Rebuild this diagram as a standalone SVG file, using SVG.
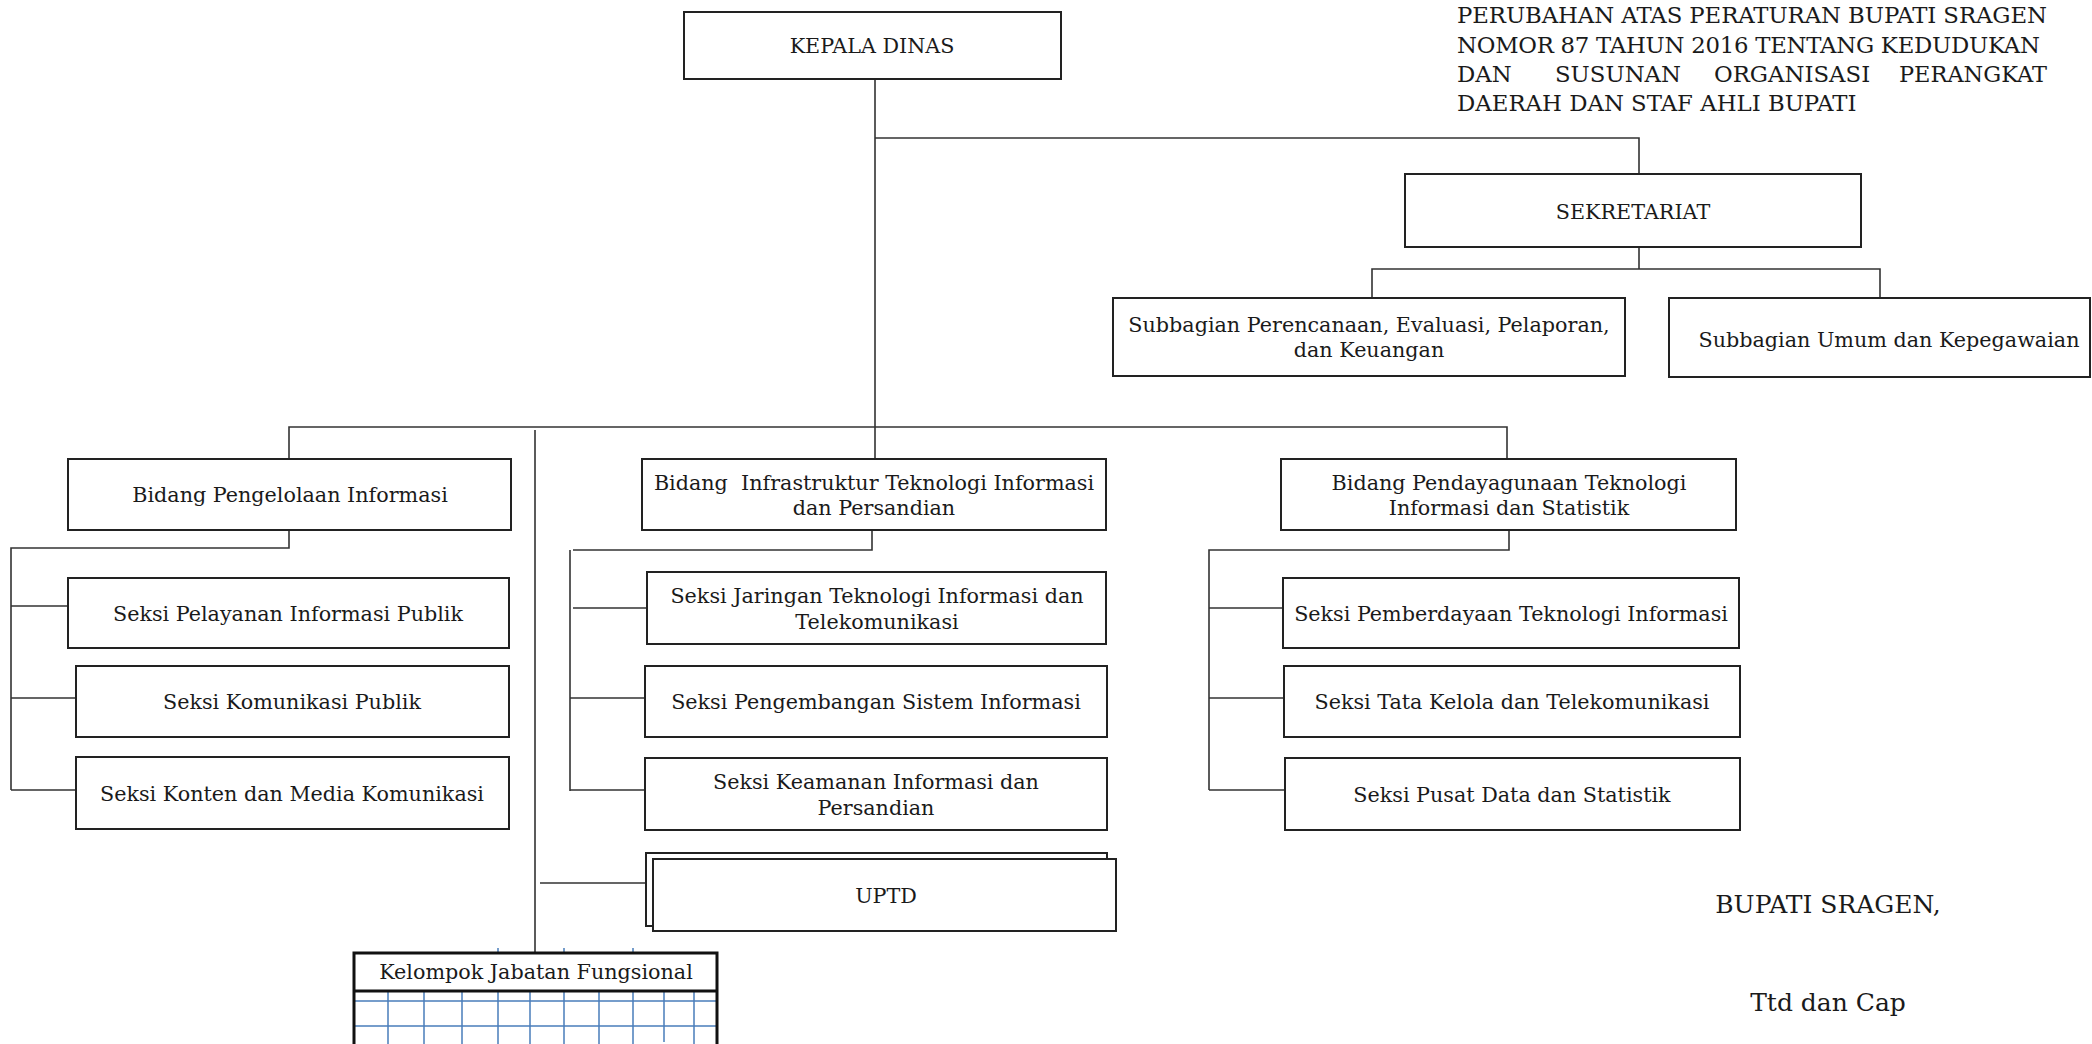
<svg xmlns="http://www.w3.org/2000/svg" width="2092" height="1044" viewBox="0 0 2092 1044">
<style>
text{font-family:"DejaVu Serif","Liberation Serif",serif;fill:#1a1a1a;font-size:20.7px}
.c{text-anchor:middle;dominant-baseline:central}
.box{fill:#fff;stroke:#222;stroke-width:2}
.ln{fill:none;stroke:#333;stroke-width:1.6}
.grid{stroke:#4a7ebb;stroke-width:1.5;fill:none}
.hd{font-size:22.8px}
.sig{font-size:25px}
</style>
<rect width="2092" height="1044" fill="#fff"/>
<g id="connectors">
<path class="ln" d="M875 79V459 M875 138H1639V174 M1639 247V269 M1372 298V269H1880V298"/>
<path class="ln" d="M289 459V427H1507V459 M535 430V952"/>
<path class="ln" d="M289 530V548H11V790 M11 606H68 M11 698H76 M11 790H76"/>
<path class="ln" d="M872 530V550H573 M570 550V791 M573 608H647 M570 698H645 M570 790H645 M540 883H646"/>
<path class="ln" d="M1509 530V550H1209V790 M1209 608H1283 M1209 698H1284 M1209 790H1285"/>
</g>
<g id="header">
<text class="hd" x="1457" y="23" textLength="590" lengthAdjust="spacing">PERUBAHAN ATAS PERATURAN BUPATI SRAGEN</text>
<text class="hd" x="1457" y="53" textLength="583" lengthAdjust="spacing">NOMOR 87 TAHUN 2016 TENTANG KEDUDUKAN</text>
<text class="hd" x="1457" y="82">DAN</text>
<text class="hd" x="1555" y="82">SUSUNAN</text>
<text class="hd" x="1714" y="82">ORGANISASI</text>
<text class="hd" x="1899" y="82" textLength="148" lengthAdjust="spacingAndGlyphs">PERANGKAT</text>
<text class="hd" x="1457" y="111">DAERAH DAN STAF AHLI BUPATI</text>
</g>
<g id="kepala-dinas"><rect class="box" x="684" y="12" width="377" height="67"/><text class="c" x="872" y="46">KEPALA DINAS</text></g>
<g id="sekretariat"><rect class="box" x="1405" y="174" width="456" height="73"/><text class="c" x="1633" y="212">SEKRETARIAT</text></g>
<g id="subbag-perencanaan"><rect class="box" x="1113" y="298" width="512" height="78"/><text class="c" x="1369" y="325">Subbagian Perencanaan, Evaluasi, Pelaporan,</text><text class="c" x="1369" y="350">dan Keuangan</text></g>
<g id="subbag-umum"><rect class="box" x="1669" y="298" width="421" height="79"/><text class="c" x="1889" y="340">Subbagian Umum dan Kepegawaian</text></g>
<g id="bidang-pengelolaan"><rect class="box" x="68" y="459" width="443" height="71"/><text class="c" x="290" y="495">Bidang Pengelolaan Informasi</text></g>
<g id="bidang-infrastruktur"><rect class="box" x="642" y="459" width="464" height="71"/><text class="c" x="874" y="483" xml:space="preserve">Bidang  Infrastruktur Teknologi Informasi</text><text class="c" x="874" y="508">dan Persandian</text></g>
<g id="bidang-pendayagunaan"><rect class="box" x="1281" y="459" width="455" height="71"/><text class="c" x="1509" y="483">Bidang Pendayagunaan Teknologi</text><text class="c" x="1509" y="508">Informasi dan Statistik</text></g>
<g id="seksi-pelayanan"><rect class="box" x="68" y="578" width="441" height="70"/><text class="c" x="288" y="614">Seksi Pelayanan Informasi Publik</text></g>
<g id="seksi-komunikasi"><rect class="box" x="76" y="666" width="433" height="71"/><text class="c" x="292" y="702">Seksi Komunikasi Publik</text></g>
<g id="seksi-konten"><rect class="box" x="76" y="757" width="433" height="72"/><text class="c" x="292" y="794">Seksi Konten dan Media Komunikasi</text></g>
<g id="seksi-jaringan"><rect class="box" x="647" y="572" width="459" height="72"/><text class="c" x="877" y="596">Seksi Jaringan Teknologi Informasi dan</text><text class="c" x="877" y="622">Telekomunikasi</text></g>
<g id="seksi-pengembangan"><rect class="box" x="645" y="666" width="462" height="71"/><text class="c" x="876" y="702">Seksi Pengembangan Sistem Informasi</text></g>
<g id="seksi-keamanan"><rect class="box" x="645" y="758" width="462" height="72"/><text class="c" x="876" y="782">Seksi Keamanan Informasi dan</text><text class="c" x="876" y="808">Persandian</text></g>
<g id="uptd"><rect class="box" x="646" y="853" width="461" height="73"/><rect class="box" x="653" y="859" width="463" height="72"/><text class="c" x="886" y="896">UPTD</text></g>
<g id="seksi-pemberdayaan"><rect class="box" x="1283" y="578" width="456" height="70"/><text class="c" x="1511" y="614">Seksi Pemberdayaan Teknologi Informasi</text></g>
<g id="seksi-tata-kelola"><rect class="box" x="1284" y="666" width="456" height="71"/><text class="c" x="1512" y="702">Seksi Tata Kelola dan Telekomunikasi</text></g>
<g id="seksi-pusat-data"><rect class="box" x="1285" y="758" width="455" height="72"/><text class="c" x="1512" y="795">Seksi Pusat Data dan Statistik</text></g>
<g id="kelompok-jabatan">
<path class="grid" d="M498 948V953 M564 948V953 M633 948V953 M388 991V1044 M424 991V1044 M462 991V1044 M498 991V1044 M530 991V1044 M564 991V1044 M599 991V1044 M633 991V1044 M664 991V1042 M694 991V1044 M354 1001H717 M354 1026H717"/>
<path fill="none" stroke="#111" stroke-width="3" d="M354 1046V953H717V1046 M354 991H717"/>
<text class="c" x="536" y="972" font-size="21px">Kelompok Jabatan Fungsional</text>
</g>
<g id="signature">
<text class="c sig" x="1828" y="904">BUPATI SRAGEN,</text>
<text class="c sig" x="1828" y="1002">Ttd dan Cap</text>
</g>
</svg>
